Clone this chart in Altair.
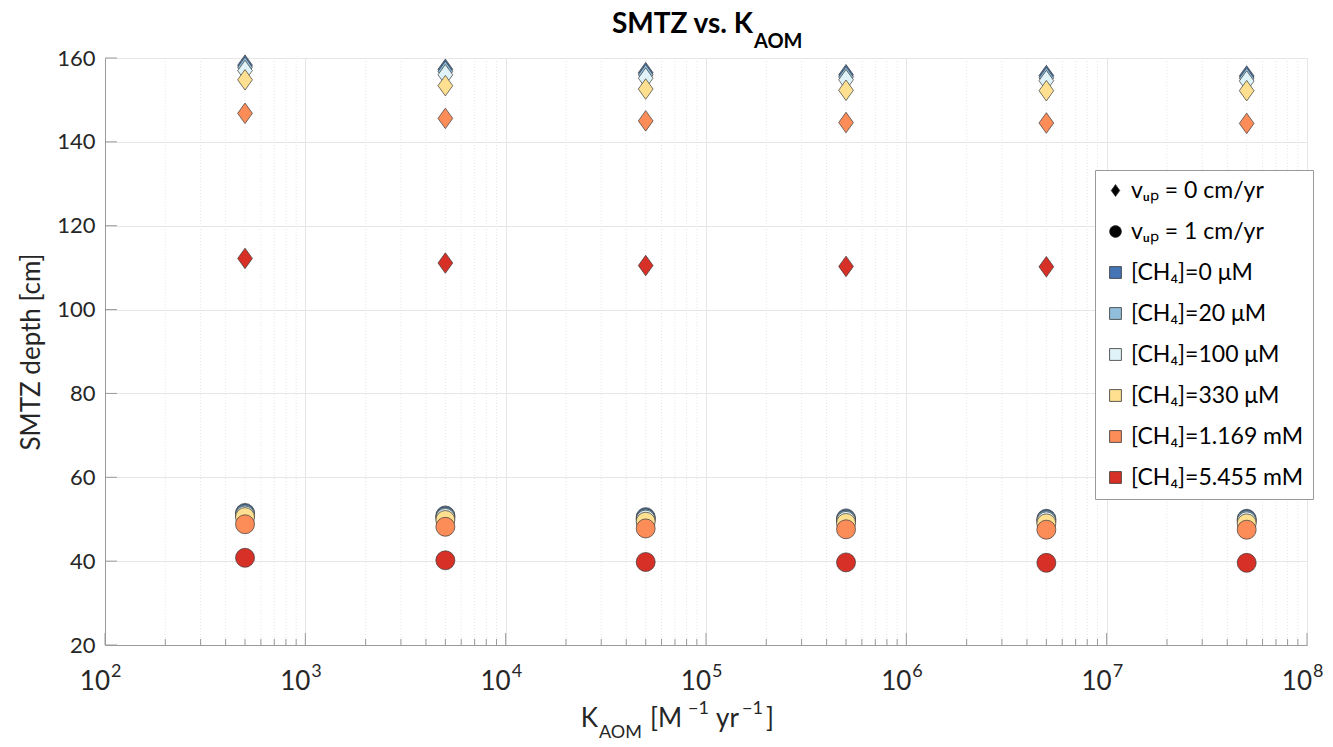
import altair as alt
import pandas as pd

# ---------------- data ----------------
k_aom = [5e2, 5e3, 5e4, 5e5, 5e6, 5e7]
ch4_labels = ["0 µM", "20 µM", "100 µM", "330 µM", "1.169 mM", "5.455 mM"]
ch4_colors = ["#4575b4", "#91bfdb", "#e0f3f8", "#fee090", "#fc8d59", "#d73027"]
v_labels = ["0 cm/yr", "1 cm/yr"]

# SMTZ depth [cm] for v_up = 0 cm/yr (diamonds)
smtz_v0 = [
    [158.3, 157.3, 156.5, 156.0, 155.8, 155.7],
    [157.8, 156.8, 156.0, 155.5, 155.3, 155.2],
    [157.0, 156.0, 155.2, 154.8, 154.6, 154.5],
    [154.8, 153.4, 152.6, 152.3, 152.2, 152.2],
    [146.8, 145.6, 145.0, 144.6, 144.5, 144.4],
    [112.2, 111.1, 110.5, 110.3, 110.2, 110.2],
]
# SMTZ depth [cm] for v_up = 1 cm/yr (circles)
smtz_v1 = [
    [51.5, 50.9, 50.5, 50.2, 50.1, 50.1],
    [51.2, 50.6, 50.2, 49.9, 49.8, 49.8],
    [50.9, 50.3, 49.9, 49.6, 49.5, 49.5],
    [50.5, 49.8, 49.4, 49.1, 49.0, 49.0],
    [48.8, 48.2, 47.8, 47.6, 47.5, 47.5],
    [40.8, 40.2, 39.8, 39.7, 39.6, 39.6],
]

decades = [1e2, 1e3, 1e4, 1e5, 1e6, 1e7, 1e8]
exponents = ["2", "3", "4", "5", "6", "7", "8"]
minor_vals = [m * d for d in decades[:-1] for m in range(2, 10)]
y_ticks = [20, 40, 60, 80, 100, 120, 140, 160]

legend_keys = ["vᵤₚ = 0 cm/yr", "vᵤₚ = 1 cm/yr",
               "[CH₄]=0 μM", "[CH₄]=20 μM", "[CH₄]=100 μM",
               "[CH₄]=330 μM", "[CH₄]=1.169 mM", "[CH₄]=5.455 mM"]

# ---------------- build tables ----------------
rows = []
idx = 0
for vi, (v, table) in enumerate(zip(v_labels, [smtz_v0, smtz_v1])):
    for ci, c in enumerate(ch4_labels):
        for k, d in zip(k_aom, table[ci]):
            rows.append({"k": k, "depth": d, "ch4": c, "v": v, "idx": idx})
            idx += 1
df = pd.DataFrame(rows)

DIAMOND = "M0,-1L0.72,0L0,1L-0.72,0Z"
W, H = 1202, 587
FONT = "Lato"
TXT = "#262626"

xscale = alt.Scale(type="log", domain=[1e2, 1e8], nice=False)
yscale = alt.Scale(domain=[20, 160], nice=False, zero=False)

one = pd.DataFrame({"d": [0]})
minor_df = pd.DataFrame({"v": minor_vals})
dec_df = pd.DataFrame({"v": decades, "e": exponents})
yt_df = pd.DataFrame({"v": y_ticks})

# minor dotted grid
minor_grid = alt.Chart(minor_df).mark_rule(color="#e6e6e6", strokeDash=[1, 2], strokeWidth=1).encode(
    x=alt.X("v:Q", scale=xscale,
            axis=alt.Axis(values=decades, labels=False, ticks=False, grid=True,
                          gridColor="#e6e6e6", domainColor="#9a9a9a", title=None))
)
# inner ticks
minor_ticks = alt.Chart(minor_df).mark_rule(color="#9a9a9a", strokeWidth=1).encode(
    x=alt.X("v:Q", scale=xscale), y=alt.value(H), y2=alt.value(H - 6)
)
major_ticks = alt.Chart(dec_df).mark_rule(color="#9a9a9a", strokeWidth=1).encode(
    x=alt.X("v:Q", scale=xscale), y=alt.value(H), y2=alt.value(H - 12)
)
y_ticks_layer = alt.Chart(yt_df).mark_rule(color="#9a9a9a", strokeWidth=1).encode(
    y=alt.Y("v:Q", scale=yscale,
            axis=alt.Axis(values=y_ticks, tickSize=0, labelFontSize=22, labelFont=FONT,
                          labelColor=TXT, labelPadding=10, grid=True, gridColor="#e6e6e6",
                          domainColor="#9a9a9a", title="SMTZ depth [cm]", titleFontSize=26,
                          titleFont=FONT, titleFontWeight="normal", titleColor=TXT,
                          titlePadding=12)),
    x=alt.value(0), x2=alt.value(12)
)

points = alt.Chart(df).mark_point(filled=True, opacity=1, stroke="#3a3a3a", strokeWidth=0.7).encode(
    x=alt.X("k:Q", scale=xscale),
    y=alt.Y("depth:Q", scale=yscale),
    color=alt.Color("ch4:N", scale=alt.Scale(domain=ch4_labels, range=ch4_colors), legend=None),
    shape=alt.Shape("v:N", scale=alt.Scale(domain=v_labels, range=[DIAMOND, "circle"]), legend=None),
    size=alt.Size("v:N", scale=alt.Scale(domain=v_labels, range=[420, 360]), legend=None),
    order=alt.Order("idx:Q"),
)

leg = alt.Legend(orient="none", legendX=990, legendY=112, fillColor="white",
                 strokeColor="#9a9a9a", padding=9, labelFontSize=23, labelFont=FONT,
                 labelColor="#000", symbolSize=140, symbolStrokeColor="#333",
                 symbolStrokeWidth=0.8, rowPadding=17, labelOffset=4, labelLimit=0,
                 title=None)
legend_df = pd.DataFrame({"key": legend_keys})
legend_layer = alt.Chart(legend_df).transform_filter("false").mark_point(filled=True, opacity=1).encode(
    color=alt.Color("key:N", scale=alt.Scale(domain=legend_keys, range=["#000", "#000"] + ch4_colors), legend=leg),
    shape=alt.Shape("key:N", scale=alt.Scale(domain=legend_keys, range=[DIAMOND, "circle"] + ["square"] * 6), legend=leg),
)

# x tick labels 10^n
xlab_base = alt.Chart(dec_df).mark_text(align="right", baseline="alphabetic", fontSize=26,
                                        font=FONT, color=TXT, dx=5).encode(
    x=alt.X("v:Q", scale=xscale), y=alt.value(H + 45), text=alt.value("10"))
xlab_exp = alt.Chart(dec_df).mark_text(align="left", baseline="alphabetic", fontSize=18,
                                       font=FONT, color=TXT, dx=6).encode(
    x=alt.X("v:Q", scale=xscale), y=alt.value(H + 32), text="e:N")


def txt(s, x, y, size, align="left", weight="normal"):
    return alt.Chart(one).mark_text(align=align, baseline="alphabetic", fontSize=size, font=FONT,
                                    color="#000" if weight == "bold" else TXT,
                                    fontWeight=weight).encode(
        x=alt.value(x), y=alt.value(y), text=alt.value(s))


# title: SMTZ vs. K_AOM
title_main = txt("SMTZ vs. K", 648, -25, 28, align="right", weight="bold")
title_sub = txt("AOM", 649, -10, 20, align="left", weight="bold")

# x axis title: K_AOM [M^-1 yr^-1]
xt = [
    txt("K", 493, 669, 26, align="right"),
    txt("AOM", 494, 680, 18),
    txt("[M", 545, 669, 26),
    txt("−1", 583, 656, 18),
    txt("yr", 611, 669, 26),
    txt("−1", 637, 656, 18),
    txt("]", 661, 669, 26),
]

chart = alt.layer(
    minor_grid, y_ticks_layer, minor_ticks, major_ticks, points, legend_layer,
    xlab_base, xlab_exp, title_main, title_sub, *xt
).properties(
    width=W, height=H,
    padding={"left": 105, "top": 58, "right": 26, "bottom": 102},
    autosize=alt.AutoSizeParams(type="none"),
).resolve_scale(
    color="independent", shape="independent", size="independent"
).configure_view(strokeWidth=0).configure(background="white")

chart.save("out.html", embed_options={"renderer": "svg", "actions": False})
